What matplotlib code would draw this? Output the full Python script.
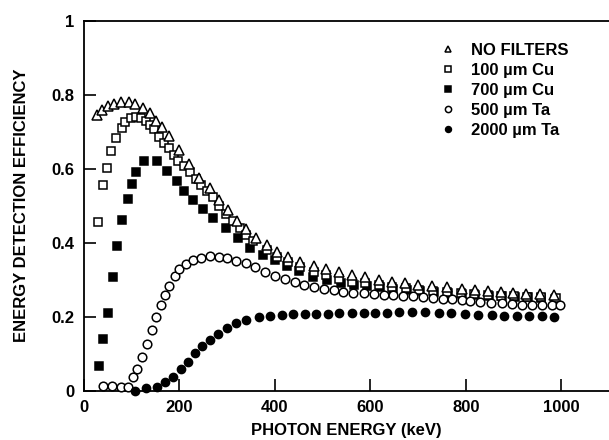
import matplotlib
matplotlib.use("Agg")
import matplotlib.pyplot as plt

plt.rcParams['font.family'] = ['Liberation Sans', 'DejaVu Sans']
plt.rcParams['font.weight'] = 'bold'

# ---- data (photon energy keV, efficiency) ----
nofilt_x = [28, 38.6, 50, 63, 78.4, 94, 108, 123, 137.5, 150, 164, 179, 198.5, 220.5, 241.7,
            263.6, 282, 302, 320.6, 338.5, 361, 383, 404, 428, 453, 481, 507, 535, 561, 589,
            618.5, 645, 673, 700.8, 728.8, 761, 791, 819.6, 846, 873.4, 898.6, 925.8, 955.8, 985]
nofilt_y = [0.744, 0.759, 0.769, 0.775, 0.779, 0.781, 0.775, 0.764, 0.750, 0.729, 0.712, 0.688,
            0.650, 0.613, 0.576, 0.547, 0.515, 0.488, 0.460, 0.436, 0.413, 0.394, 0.376, 0.361,
            0.347, 0.338, 0.328, 0.320, 0.314, 0.307, 0.300, 0.295, 0.290, 0.286, 0.282, 0.279,
            0.275, 0.272, 0.269, 0.266, 0.264, 0.262, 0.261, 0.259]

cu100_x = [30, 40, 48, 56, 66.6, 79, 86, 98, 110, 120, 129.5, 138, 147, 157, 168, 178, 189,
           198, 210, 222, 234, 246, 258, 270, 284, 298, 312, 326, 340, 354, 383, 404, 428,
           453, 481, 507, 535, 561, 589, 618, 646, 674, 703, 731, 760, 790, 818, 847, 874,
           901, 928, 957, 988]
cu100_y = [0.457, 0.556, 0.602, 0.649, 0.684, 0.709, 0.727, 0.736, 0.739, 0.736, 0.729, 0.718,
           0.707, 0.687, 0.670, 0.655, 0.637, 0.621, 0.607, 0.590, 0.572, 0.556, 0.540, 0.523,
           0.500, 0.478, 0.458, 0.440, 0.422, 0.404, 0.380, 0.362, 0.349, 0.335, 0.322, 0.313,
           0.302, 0.295, 0.290, 0.285, 0.281, 0.277, 0.273, 0.270, 0.267, 0.264, 0.262, 0.259,
           0.257, 0.255, 0.254, 0.252, 0.251]

cu700_x = [32.5, 40.7, 50, 60.5, 70, 80.5, 91.5, 100.5, 109, 126.6, 153.8, 174.8, 194.5,
           210.4, 229.3, 250.2, 271.2, 297.8, 323.5, 348, 376, 400.5, 425, 451, 480, 510,
           538, 565, 592, 620, 648, 676, 705, 733, 762, 792, 820, 849, 876, 903, 930, 958, 987]
cu700_y = [0.068, 0.139, 0.209, 0.306, 0.390, 0.461, 0.518, 0.558, 0.591, 0.622, 0.621,
           0.595, 0.567, 0.539, 0.515, 0.490, 0.466, 0.439, 0.412, 0.386, 0.367, 0.353,
           0.338, 0.324, 0.306, 0.298, 0.292, 0.287, 0.283, 0.279, 0.276, 0.273, 0.270,
           0.267, 0.264, 0.261, 0.259, 0.257, 0.255, 0.253, 0.252, 0.250, 0.249]

ta500_x = [40, 59.5, 77, 93, 103.5, 112, 122.5, 131.7, 142, 150.5, 162, 170, 178, 190, 200,
           213, 228.6, 245.7, 263.6, 282, 300, 319, 338.5, 359, 379, 400, 422, 442.6, 460.5,
           483, 503.7, 524, 542, 564.7, 587, 608, 629, 648, 669, 690, 711, 731, 752, 771,
           792, 809, 830, 853, 875.5, 896.5, 917.5, 938.5, 959.5, 980, 997.7]
ta500_y = [0.013, 0.013, 0.009, 0.011, 0.036, 0.058, 0.092, 0.126, 0.164, 0.200, 0.233,
           0.260, 0.283, 0.310, 0.328, 0.342, 0.353, 0.360, 0.364, 0.362, 0.358, 0.351,
           0.344, 0.333, 0.322, 0.310, 0.301, 0.293, 0.286, 0.279, 0.275, 0.271, 0.267,
           0.265, 0.263, 0.261, 0.260, 0.259, 0.257, 0.256, 0.253, 0.251, 0.249, 0.247,
           0.245, 0.243, 0.241, 0.238, 0.236, 0.234, 0.233, 0.232, 0.232, 0.232, 0.232]

ta2000_x = [107, 129.5, 152.6, 170, 187.3, 202.8, 218.8, 232.8, 248, 264.2, 281.6, 300.5,
            319, 338.5, 367.8, 390, 414, 438.6, 463, 487, 512, 535, 561, 587, 610, 635,
            660, 688, 715, 743, 769, 799, 826.5, 854.6, 881, 907, 933, 959.5, 985]
ta2000_y = [0.0, 0.006, 0.011, 0.024, 0.038, 0.058, 0.078, 0.101, 0.122, 0.137, 0.153,
            0.170, 0.184, 0.191, 0.198, 0.202, 0.204, 0.206, 0.206, 0.208, 0.208, 0.209,
            0.209, 0.211, 0.211, 0.211, 0.212, 0.212, 0.212, 0.211, 0.209, 0.207, 0.205,
            0.204, 0.202, 0.202, 0.202, 0.202, 0.200]

labels = ['NO FILTERS', '100 µm Cu', '700 µm Cu', '500 µm Ta', '2000 µm Ta']
xticks = [0, 200, 400, 600, 800, 1000]
xticklabels = ['0', '200', '400', '600', '800', '1000']
yticks = [0, 0.2, 0.4, 0.6, 0.8, 1.0]
yticklabels = ['0', '0.2', '0.4', '0.6', '0.8', '1']

fig = plt.figure(figsize=(6.09, 4.40), dpi=100)
ax = fig.add_axes([0.1378, 0.112, 0.8622, 0.841])

ms = 6.2
mew = 1.1
common = dict(linestyle='none', markeredgecolor='black', markeredgewidth=mew, clip_on=False)
h2, = ax.plot(cu700_x, cu700_y, marker='s', markerfacecolor='black', markersize=ms * 0.95,
              label=labels[2], zorder=3, **common)
h1, = ax.plot(cu100_x, cu100_y, marker='s', markerfacecolor='white', markersize=ms * 0.95,
              label=labels[1], zorder=4, **common)
h0, = ax.plot(nofilt_x, nofilt_y, marker='^', markerfacecolor='white', markersize=ms * 1.1,
              label=labels[0], zorder=5, **common)
h3, = ax.plot(ta500_x, ta500_y, marker='o', markerfacecolor='white', markersize=ms,
              label=labels[3], zorder=6, **common)
h4, = ax.plot(ta2000_x, ta2000_y, marker='o', markerfacecolor='black', markersize=ms * 0.95,
              label=labels[4], zorder=6, **common)

ax.set_xlim(0, 1100)
ax.set_ylim(0, 1)
ax.set_xticks(xticks)
ax.set_xticklabels(xticklabels)
ax.set_yticks(yticks)
ax.set_yticklabels(yticklabels)
ax.tick_params(direction='in', length=8.5, width=1.2, labelsize=12)
ax.tick_params(axis='x', pad=7)
ax.tick_params(axis='y', pad=7)
for lab in ax.get_xticklabels() + ax.get_yticklabels():
    lab.set_fontweight('bold')

for s in ['left', 'bottom', 'top']:
    ax.spines[s].set_linewidth(1.3)
ax.spines['right'].set_visible(False)

ax.set_xlabel('PHOTON ENERGY (keV)', fontsize=12, fontweight='bold')
ax.set_ylabel('ENERGY DETECTION EFFICIENCY', fontsize=12, fontweight='bold')
ax.xaxis.set_label_coords(0.5, -0.087)
ax.yaxis.set_label_coords(-0.105, 0.5)

leg = ax.legend(handles=[h0, h1, h2, h3, h4], loc='upper left',
                bbox_to_anchor=(0.677, 0.94), frameon=False, fontsize=12,
                markerscale=0.72, handlelength=1.0, handletextpad=0.9,
                labelspacing=0.3, borderaxespad=0, borderpad=0)
for t in leg.get_texts():
    t.set_fontweight('bold')

fig.savefig('out.png', dpi=100)
